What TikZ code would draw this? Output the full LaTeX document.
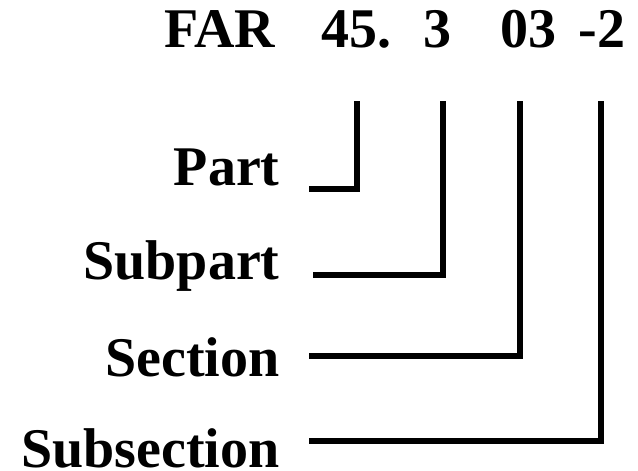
\documentclass[tikz,border=0pt]{standalone}
\usepackage{fontspec}
\setmainfont{Liberation Serif}
\usetikzlibrary{positioning}

\tikzset{
  txt/.style={font=\fontsize{28}{34}\selectfont\bfseries, inner sep=0pt},
  hdr/.style={txt, anchor=base west},
  lab/.style={txt, anchor=base east},
  conn/.style={line width=3pt, line join=miter}
}

\begin{document}
\begin{tikzpicture}[x=0.5pt, y=-0.5pt]
  \useasboundingbox (0,0) rectangle (638,471);

  % Citation
  \node[hdr] (far)   at (164,47) {FAR};
  \node[hdr] (hd45)  at (321,47) {45.};
  \node[hdr] (hd3)   at (423,47) {3};
  \node[hdr] (hd03)  at (500,47) {03};
  \node[hdr] (hd2)   at (578,47) {-2};

  % Labels
  \foreach \n/\t/\y in {part/Part/185, subpart/Subpart/279,
                        section/Section/376, subsec/Subsection/467} {
    \node[lab] (\n) at (280,\y) {\t};
  }

  % Connectors
  \foreach \n/\sx/\ly/\tx in {part/309/189/357, subpart/313/274.5/443,
                              section/309/355.5/520, subsec/309/440.5/601} {
    \coordinate (\n-s) at (\sx,\ly);
    \coordinate (\n-t) at (\tx,101);
    \draw[conn] (\n-s) -| (\n-t);
  }
\end{tikzpicture}
\end{document}
